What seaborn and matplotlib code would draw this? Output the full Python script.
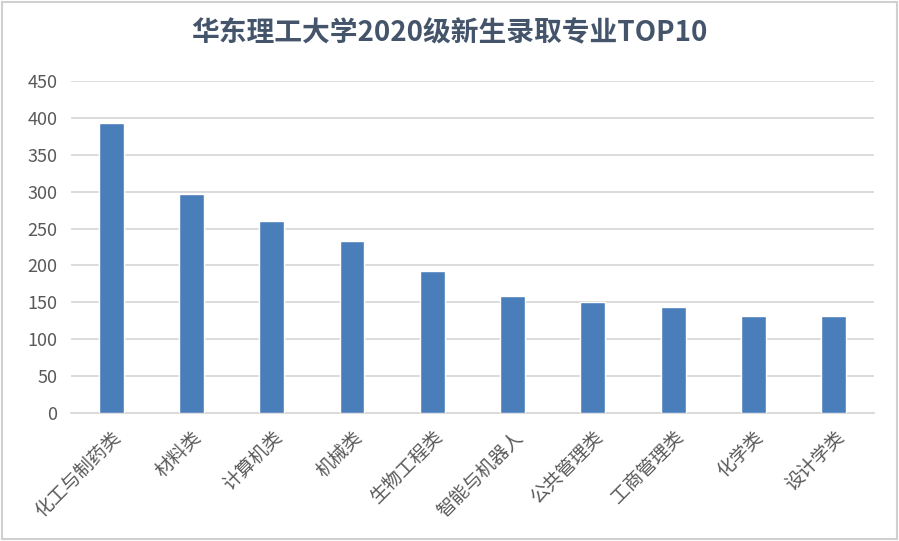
import numpy as np
import pandas as pd
import matplotlib.pyplot as plt
import seaborn as sns

sns.set_theme(style='white')
plt.rcParams['font.family'] = ['Noto Sans CJK SC', 'DejaVu Sans']

TITLE = '华东理工大学2020级新生录取专业TOP10'
majors = ['化工与制药类', '材料类', '计算机类', '机械类', '生物工程类',
          '智能与机器人', '公共管理类', '工商管理类', '化学类', '设计学类']
counts = [393, 297, 260, 233, 193, 159, 150, 143, 132, 131]
y_ticks = [0, 50, 100, 150, 200, 250, 300, 350, 400, 450]

df = pd.DataFrame({'major': majors, 'count': counts})

fig = plt.figure(figsize=(8.99, 5.41), dpi=100)
ax = fig.add_axes([0.079, 0.2366, 0.893, 0.6137])

sns.barplot(data=df, x='major', y='count', color='#4A7EBB', width=0.31,
            saturation=1, ax=ax, zorder=3)

ax.set_ylim(0, 450)
ax.set_xlim(-0.5, len(majors) - 0.5)
ax.set_yticks(y_ticks)
ax.yaxis.grid(True, color='#D9D9D9', linewidth=1.3, zorder=0)
ax.set_axisbelow(True)
for s in ['top', 'right', 'left']:
    ax.spines[s].set_visible(False)
ax.spines['bottom'].set_color('#D9D9D9')
ax.spines['bottom'].set_linewidth(1.3)

ax.set_xlabel('')
ax.set_ylabel('')
ax.tick_params(axis='y', length=0, pad=10, labelsize=13, labelcolor='#595959')
ax.tick_params(axis='x', length=0, pad=10, labelsize=13.5, labelcolor='#595959')
for lab in ax.get_yticklabels():
    lab.set_fontweight('light')
for lab in ax.get_xticklabels():
    lab.set_rotation(45)
    lab.set_ha('right')
    lab.set_va('top')
    lab.set_rotation_mode('anchor')
    lab.set_fontweight('light')

fig.text(0.5, 0.938, TITLE, ha='center', va='center', fontsize=20,
         fontweight='bold', color='#44546A')

# light frame around the chart
fig.patches.append(plt.Rectangle((0.002, 0.003), 0.996, 0.994, transform=fig.transFigure,
                                 fill=False, edgecolor='#D0D0D0', linewidth=1.5))

fig.savefig('out.png', dpi=100)
